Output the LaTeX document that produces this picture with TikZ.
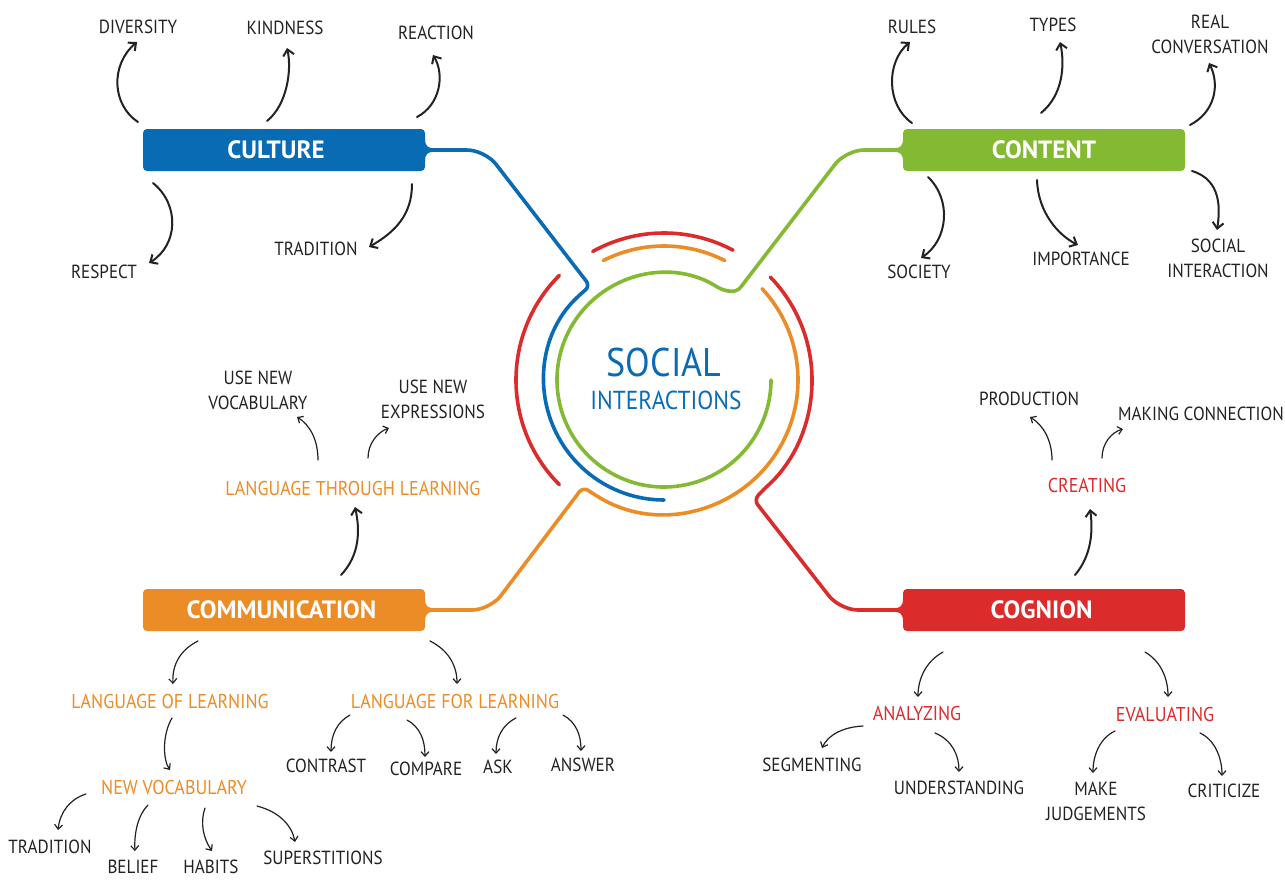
\documentclass[tikz,border=0pt]{standalone}
\usepackage{fontspec}
\setmainfont{PT Sans}[FakeStretch=0.9]
\newfontfamily\boxfam{PT Sans}
\usetikzlibrary{arrows.meta}
\definecolor{cblue}{HTML}{0A6BB5}
\definecolor{cgreen}{HTML}{83B933}
\definecolor{corange}{HTML}{EC8C26}
\definecolor{cred}{HTML}{DB2C2B}
\definecolor{ink}{HTML}{222222}
\begin{document}
\begin{tikzpicture}[x=1pt,y=-1pt,
  box/.style={rounded corners=4pt, minimum width=282pt, minimum height=42pt, inner sep=0pt, text=white, font=\boxfam\fontsize{25}{28}\selectfont\bfseries},
  lbl/.style={text=ink, align=center, inner sep=2pt, font=\fontsize{19}{25}\selectfont},
  subo/.style={text=corange, inner sep=2pt, font=\fontsize{20}{25}\selectfont},
  subr/.style={text=cred, inner sep=2pt, font=\fontsize{20}{25}\selectfont},
  arrA/.style={draw=ink, line width=2pt, line cap=round, -{Straight Barb[length=6pt,width=11pt]}},
  arrB/.style={draw=ink, line width=1.2pt, line cap=round, -{Straight Barb[length=4.5pt,width=8pt]}},
  mainline/.style={line width=3.6pt, line cap=round},
]
\useasboundingbox (0,0) rectangle (1285,879);
\fill[white] (0,0) rectangle (1285,879);

% boxes
\node[box, fill=cblue] (culture) at (284,150) {\hspace*{-16pt}CULTURE};
\node[box, fill=cgreen] (content) at (1044,150) {CONTENT};
\node[box, fill=corange] (comm) at (284,610) {\hspace*{-5pt}COMMUNICATION};
\node[box, fill=cred] (cog) at (1044,610) {\hspace*{-5pt}COGNION};

% fillets
\fill[cblue] (425,139) .. controls (425,146) and (428,148.2) .. (434,148.2) -- (434,151.8) .. controls (428,151.8) and (425,154) .. (425,161) -- cycle;
\fill[cgreen] (903,139) .. controls (903,146) and (900,148.2) .. (894,148.2) -- (894,151.8) .. controls (900,151.8) and (903,154) .. (903,161) -- cycle;
\fill[corange] (425,599) .. controls (425,606) and (428,608.2) .. (434,608.2) -- (434,611.8) .. controls (428,611.8) and (425,614) .. (425,621) -- cycle;
\fill[cred] (903,599) .. controls (903,606) and (900,608.2) .. (894,608.2) -- (894,611.8) .. controls (900,611.8) and (903,614) .. (903,621) -- cycle;

% center
\coordinate (ctr) at (664,380);
\node[text=cblue, inner sep=0pt, font=\fontsize{40}{44}\selectfont] (social) at (664,362) {SOCIAL};
\node[text=cblue, inner sep=0pt, font=\fontsize{26}{28}\selectfont] (inter) at (666,400) {INTERACTIONS};

% main connectors and rings
\draw[mainline, cblue] (culture.east) [rounded corners=18pt] -- (485,150) [rounded corners=6pt] -- (590,286) -- ([shift={(224:120)}]ctr) [sharp corners] arc[start angle=224, end angle=90, radius=120];
\draw[mainline, cgreen] (content.west) [rounded corners=18pt] -- (846,150) [rounded corners=6pt] -- (737,292) -- ([shift={(303:107)}]ctr) [sharp corners] arc[start angle=303, end angle=0, radius=107];
\draw[mainline, corange] (comm.east) [rounded corners=18pt] -- (490,610) [rounded corners=6pt] -- (583,487) -- ([shift={(121:134)}]ctr) [sharp corners] arc[start angle=121, end angle=-43, radius=134];
\draw[mainline, cred] (cog.west) [rounded corners=18pt] -- (840,610) [rounded corners=6pt] -- (754,500) -- ([shift={(48:148)}]ctr) [sharp corners] arc[start angle=48, end angle=-44, radius=148];
\draw[mainline, corange] ([shift={(243:134)}]ctr) arc[start angle=243, end angle=297, radius=134];
\draw[mainline, cred] ([shift={(241:147)}]ctr) arc[start angle=241, end angle=298, radius=147];
\draw[mainline, cred] ([shift={(135:148)}]ctr) arc[start angle=135, end angle=225, radius=148];

% culture labels
\node[lbl] (div) at (138,27) {DIVERSITY};
\node[lbl] (kind) at (285,28) {KINDNESS};
\node[lbl] (reac) at (436,33) {REACTION};
\node[lbl] (resp) at (104,272) {RESPECT};
\node[lbl] (trad) at (316,249) {TRADITION};
% content labels
\node[lbl] (rules) at (912,27) {RULES};
\node[lbl] (types) at (1053,25) {TYPES};
\node[lbl] (real) at (1210,34) {REAL\\CONVERSATION};
\node[lbl] (soc) at (919,272) {SOCIETY};
\node[lbl] (imp) at (1081,259) {IMPORTANCE};
\node[lbl] (socint) at (1218,258) {SOCIAL\\INTERACTION};
% communication labels
\node[subo] (ltl) at (353,488) {LANGUAGE THROUGH LEARNING};
\node[lbl] (usevoc) at (258,390) {USE NEW\\VOCABULARY};
\node[lbl] (useexp) at (433,399) {USE NEW\\EXPRESSIONS};
\node[subo] (lol) at (170,701) {LANGUAGE OF LEARNING};
\node[subo] (lfl) at (455,701) {LANGUAGE FOR LEARNING};
\node[subo] (nv) at (174,787) {NEW VOCABULARY};
\node[lbl] (contrast) at (326,766) {CONTRAST};
\node[lbl] (compare) at (426,769) {COMPARE};
\node[lbl] (ask) at (498,767) {ASK};
\node[lbl] (answer) at (583,765) {ANSWER};
\node[lbl] (trad2) at (50,847) {TRADITION};
\node[lbl] (belief) at (133,867) {BELIEF};
\node[lbl] (habits) at (211,867) {HABITS};
\node[lbl] (sup) at (323,858) {SUPERSTITIONS};
% cognion labels
\node[subr] (creating) at (1087,485) {CREATING};
\node[lbl] (prod) at (1029,399) {PRODUCTION};
\node[lbl] (making) at (1201,414) {MAKING CONNECTION};
\node[subr] (anal) at (917,713) {ANALYZING};
\node[subr] (eval) at (1165,714) {EVALUATING};
\node[lbl] (seg) at (812,765) {SEGMENTING};
\node[lbl] (und) at (959,788) {UNDERSTANDING};
\node[lbl] (make) at (1096,801) {MAKE\\JUDGEMENTS};
\node[lbl] (crit) at (1224,791) {CRITICIZE};

% culture arrows
\draw[arrA] ([shift={(-146,-28)}]culture.center) .. controls (112,105) and (110,65) .. ([shift={(-1,15)}]div.center);
\draw[arrA] ([shift={(-17,-29)}]culture.center) .. controls (287,105) and (292,70) .. ([shift={(2,20)}]kind.center);
\draw[arrA] ([shift={(133,-33)}]culture.center) .. controls (440,105) and (445,75) .. ([shift={(-3,22)}]reac.center);
\draw[arrA] ([shift={(-131,33)}]culture.center) .. controls (180,205) and (178,245) .. ([shift={(45,-9)}]resp.center);
\draw[arrA] ([shift={(128,34)}]culture.center) .. controls (412,215) and (395,232) .. ([shift={(53,-2)}]trad.center);
% content arrows
\draw[arrA] ([shift={(-132,-27)}]content.center) .. controls (886,105) and (886,62) .. ([shift={(-2,15)}]rules.center);
\draw[arrA] ([shift={(-3,-37)}]content.center) .. controls (1063,95) and (1065,65) .. ([shift={(7,17)}]types.center);
\draw[arrA] ([shift={(146,-25)}]content.center) .. controls (1215,112) and (1220,85) .. ([shift={(-1,29)}]real.center);
\draw[arrA] ([shift={(-116,27)}]content.center) .. controls (952,200) and (948,240) .. ([shift={(2,-14)}]soc.center);
\draw[arrA] ([shift={(-7,30)}]content.center) .. controls (1038,212) and (1058,235) .. ([shift={(-3,-14)}]imp.center);
\draw[arrA] ([shift={(148,21)}]content.center) .. controls (1222,180) and (1220,210) .. ([shift={(-1,-28)}]socint.center);
% communication arrows
\draw[arrA] ([shift={(57,-35)}]comm.center) .. controls (360,555) and (360,530) .. ([shift={(2,19)}]ltl.center);
\draw[arrB] ([shift={(-35,-28)}]ltl.center) .. controls (318,440) and (310,425) .. ([shift={(39,27)}]usevoc.center);
\draw[arrB] ([shift={(15,-30)}]ltl.center) .. controls (368,443) and (378,432) .. ([shift={(-44,29)}]useexp.center);
\draw[arrB] ([shift={(-86,31)}]comm.center) .. controls (180,650) and (172,665) .. ([shift={(3,-17)}]lol.center);
\draw[arrB] ([shift={(146,31)}]comm.center) .. controls (448,650) and (457,665) .. ([shift={(2,-17)}]lfl.center);
\draw[arrB] ([shift={(2,17)}]lol.center) .. controls (162,735) and (163,760) .. ([shift={(-4,-17)}]nv.center);
\draw[arrB] ([shift={(-105,14)}]lfl.center) .. controls (337,722) and (331,735) .. ([shift={(5,-14)}]contrast.center);
\draw[arrB] ([shift={(-48,19)}]lfl.center) .. controls (420,727) and (425,740) .. ([shift={(-1,-12)}]compare.center);
\draw[arrB] ([shift={(61,17)}]lfl.center) .. controls (502,725) and (496,738) .. ([shift={(-2,-13)}]ask.center);
\draw[arrB] ([shift={(108,14)}]lfl.center) .. controls (576,722) and (581,735) .. ([shift={(-2,-14)}]answer.center);
\draw[arrB] ([shift={(-88,7)}]nv.center) .. controls (70,799) and (60,812) .. ([shift={(8,-17)}]trad2.center);
\draw[arrB] ([shift={(-26,18)}]nv.center) .. controls (138,815) and (134,833) .. ([shift={(2,-16)}]belief.center);
\draw[arrB] ([shift={(31,21)}]nv.center) .. controls (200,822) and (203,838) .. ([shift={(1,-16)}]habits.center);
\draw[arrB] ([shift={(83,19)}]nv.center) .. controls (280,812) and (292,826) .. ([shift={(-28,-16)}]sup.center);
% cognion arrows
\draw[arrA] ([shift={(31,-35)}]cog.center) .. controls (1092,555) and (1093,530) .. ([shift={(3,24)}]creating.center);
\draw[arrB] ([shift={(-35,-25)}]creating.center) .. controls (1052,440) and (1043,425) .. ([shift={(1,18)}]prod.center);
\draw[arrB] ([shift={(15,-27)}]creating.center) .. controls (1102,443) and (1112,432) .. ([shift={(-78,15)}]making.center);
\draw[arrB] ([shift={(-101,42)}]cog.center) .. controls (925,662) and (918,680) .. ([shift={(1,-16)}]anal.center);
\draw[arrB] ([shift={(101,42)}]cog.center) .. controls (1162,662) and (1168,680) .. ([shift={(3,-17)}]eval.center);
\draw[arrB] ([shift={(-54,13)}]anal.center) .. controls (843,727) and (828,735) .. ([shift={(10,-17)}]seg.center);
\draw[arrB] ([shift={(18,20)}]anal.center) .. controls (952,740) and (959,755) .. ([shift={(0,-16)}]und.center);
\draw[arrB] ([shift={(-50,17)}]eval.center) .. controls (1100,738) and (1093,755) .. ([shift={(-3,-28)}]make.center);
\draw[arrB] ([shift={(35,19)}]eval.center) .. controls (1215,740) and (1222,758) .. ([shift={(-2,-15)}]crit.center);
\end{tikzpicture}
\end{document}
